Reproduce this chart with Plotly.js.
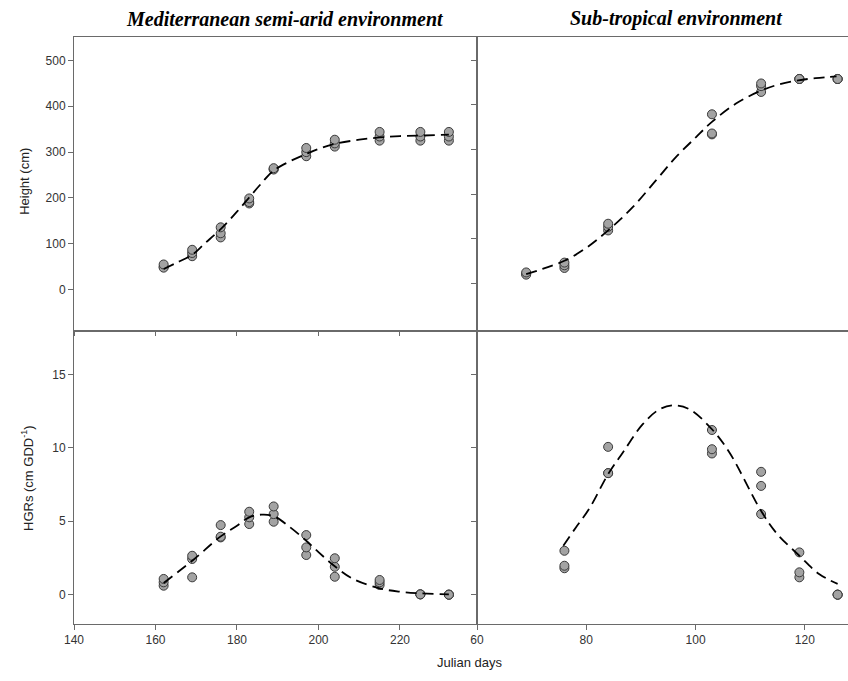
<!DOCTYPE html>
<html>
<head>
<meta charset="utf-8">
<script src="https://cdn.plot.ly/plotly-3.0.1.min.js"></script>
<style>html,body{margin:0;padding:0;background:#fff;}#chart{width:848px;height:681px;}</style>
</head>
<body>
<div id="chart"></div>
<script>
// ---------- Mediterranean semi-arid environment ----------
var medDays = [162, 169, 176, 183, 189, 197, 204, 215, 225, 232];
var medHeightRep1 = [55, 87, 136, 199, 265, 309, 327, 344, 344, 344];
var medHeightRep2 = [48, 80, 123, 191, 262, 300, 319, 334, 334, 334];
var medHeightRep3 = [50, 73, 114, 188, 263, 291, 312, 325, 325, 325];
var medHeightFitDays = [162, 165, 169, 172, 176, 180, 183, 186, 189, 193, 197, 200, 204, 210, 215, 220, 225, 232];
var medHeightFit = [45, 58, 76, 100, 132, 170, 201, 232, 260, 280, 296, 307, 318, 327, 332, 335, 336, 338];

var medHGRRep1 = [1.07, 2.65, 4.74, 5.65, 6.01, 4.06, 2.48, 1.00, 0.02, 0.0];
var medHGRRep2 = [0.84, 2.43, 3.95, 5.27, 5.49, 3.22, 1.90, 0.84, 0.02, 0.0];
var medHGRRep3 = [0.61, 1.18, 3.90, 4.81, 4.97, 2.70, 1.22, 0.66, 0.02, 0.0];
var medHGRFitDays = [162, 169, 176, 180, 183, 186, 189, 193, 197, 200, 204, 208.5, 215, 220, 225, 232];
var medHGRFit = [0.8, 2.31, 3.97, 4.7, 5.27, 5.45, 5.35, 4.6, 3.67, 2.9, 1.93, 1.07, 0.43, 0.2, 0.09, 0.02];

// ---------- Sub-tropical environment ----------
var subDays = [69, 76, 84, 103, 112, 119, 126];
var subHeightRep1 = [25, 47, 134, 379, 448, 458, 458];
var subHeightRep2 = [20, 41, 127, 336, 442, 458, 458];
var subHeightRep3 = [22, 35, 119, 334, 429, 458, 458];
var subHeightFitDays = [69, 72, 76, 80, 84, 88.5, 92.75, 96.4, 100.1, 103, 107.4, 111.8, 115, 118.8, 122, 125.8];
var subHeightFit = [21, 33, 51, 80, 119, 171, 231, 283, 328, 362, 403, 431, 445, 455, 460, 464];

var subHGRDays = [76, 84, 103, 112, 119, 126];
var subHGRRep1 = [2.99, 10.07, 11.22, 8.37, 2.88, 0.0];
var subHGRRep2 = [1.97, 8.28, 9.91, 7.41, 1.52, 0.0];
var subHGRRep3 = [1.80, 8.28, 9.62, 5.49, 1.18, 0.0];
var subHGRFitDays = [75.8, 78.1, 80.5, 84, 86.7, 90.3, 93.4, 96.1, 98.9, 103, 106.2, 111.8, 114.7, 119, 122.6, 126];
var subHGRFit = [3.33, 4.58, 5.83, 8.21, 9.69, 11.6, 12.63, 12.9, 12.63, 11.27, 9.69, 5.83, 4.24, 2.65, 1.41, 0.73];

// tick labels
var medTicks = [140, 160, 180, 200, 220];
var subTicks = [60, 80, 100, 120];
var heightTicks = [0, 100, 200, 300, 400, 500];
var hgrTicks = [0, 5, 10, 15];

var markerStyle = {size: 9, color: '#a3a3a3', line: {color: '#3a3a3a', width: 1}};
var lineStyle = {color: '#000', width: 1.8, dash: '11px,6px', shape: 'spline', smoothing: 1};

function pts(x, y, xa, ya) {
  return {x: x, y: y, xaxis: xa, yaxis: ya, type: 'scatter', mode: 'markers', marker: markerStyle, hoverinfo: 'x+y', showlegend: false, cliponaxis: false};
}
function fit(x, y, xa, ya) {
  return {x: x, y: y, xaxis: xa, yaxis: ya, type: 'scatter', mode: 'lines', line: lineStyle, hoverinfo: 'skip', showlegend: false};
}

var data = [
  pts(medDays, medHeightRep3, 'x', 'y'), pts(medDays, medHeightRep2, 'x', 'y'), pts(medDays, medHeightRep1, 'x', 'y'),
  fit(medHeightFitDays, medHeightFit, 'x', 'y'),
  pts(subDays, subHeightRep3, 'x2', 'y2'), pts(subDays, subHeightRep2, 'x2', 'y2'), pts(subDays, subHeightRep1, 'x2', 'y2'),
  fit(subHeightFitDays, subHeightFit, 'x2', 'y2'),
  pts(medDays, medHGRRep3, 'x3', 'y3'), pts(medDays, medHGRRep2, 'x3', 'y3'), pts(medDays, medHGRRep1, 'x3', 'y3'),
  fit(medHGRFitDays, medHGRFit, 'x3', 'y3'),
  pts(subHGRDays, subHGRRep3, 'x4', 'y4'), pts(subHGRDays, subHGRRep2, 'x4', 'y4'), pts(subHGRDays, subHGRRep1, 'x4', 'y4'),
  fit(subHGRFitDays, subHGRFit, 'x4', 'y4')
];

var tickFont = {family: 'Liberation Sans, Arial, sans-serif', size: 12, color: '#333'};
var LC = '#6a6a6a';
var split = 403 / 774;

function ax(o) {
  var base = {showline: true, linecolor: LC, linewidth: 1, showgrid: false, zeroline: false,
    ticks: 'outside', ticklen: 5, tickwidth: 1, tickcolor: LC, tickfont: tickFont, fixedrange: true};
  for (var k in o) base[k] = o[k];
  return base;
}

var layout = {
  width: 848, height: 681,
  margin: {l: 74, r: 0, t: 37, b: 57},
  paper_bgcolor: '#fff', plot_bgcolor: '#fff',
  showlegend: false,
  xaxis: ax({domain: [0, split], range: [140, 238.9], anchor: 'y', mirror: true, tickvals: medTicks, showticklabels: false, ticklen: 4}),
  yaxis: ax({domain: [0.5, 1], range: [-89, 551], anchor: 'x', mirror: true, tickvals: heightTicks}),
  xaxis2: ax({domain: [split, 1], range: [60, 127.9], anchor: 'y2', mirror: true, tickvals: subTicks, showticklabels: false, ticks: ''}),
  yaxis2: ax({domain: [0.5, 1], range: [-105, 552], anchor: 'x2', mirror: false, tickvals: heightTicks, showticklabels: false}),
  xaxis3: ax({domain: [0, split], range: [140, 238.9], anchor: 'y3', mirror: true, tickvals: medTicks}),
  yaxis3: ax({domain: [0, 0.5], range: [-2, 18], anchor: 'x3', mirror: true, tickvals: hgrTicks}),
  xaxis4: ax({domain: [split, 1], range: [60, 127.9], anchor: 'y4', mirror: true, tickvals: subTicks}),
  yaxis4: ax({domain: [0, 0.5], range: [-2, 18], anchor: 'x4', mirror: false, tickvals: hgrTicks, showticklabels: false}),
  annotations: [
    {text: '<b><i>Mediterranean semi-arid environment</i></b>', xref: 'paper', yref: 'paper', x: 0.2726, y: 1.031, xanchor: 'center', yanchor: 'middle', showarrow: false,
     font: {family: 'Liberation Serif, Times New Roman, serif', size: 20, color: '#000'}},
    {text: '<b><i>Sub-tropical environment</i></b>', xref: 'paper', yref: 'paper', x: 0.779, y: 1.031, xanchor: 'center', yanchor: 'middle', showarrow: false,
     font: {family: 'Liberation Serif, Times New Roman, serif', size: 20, color: '#000'}},
    {text: 'Height (cm)', xref: 'paper', yref: 'paper', x: -0.064, y: 0.754, xanchor: 'center', yanchor: 'middle', textangle: -90, showarrow: false,
     font: {family: 'Liberation Sans, Arial, sans-serif', size: 13, color: '#222'}},
    {text: 'HGRs (cm GDD<sup>-1</sup>)', xref: 'paper', yref: 'paper', x: -0.06, y: 0.248, xanchor: 'center', yanchor: 'middle', textangle: -90, showarrow: false,
     font: {family: 'Liberation Sans, Arial, sans-serif', size: 13, color: '#222'}},
    {text: 'Julian days', xref: 'paper', yref: 'paper', x: 0.5116, y: -0.065, xanchor: 'center', yanchor: 'middle', showarrow: false,
     font: {family: 'Liberation Sans, Arial, sans-serif', size: 13, color: '#222'}}
  ]
};

Plotly.newPlot('chart', data, layout, {staticPlot: true, displayModeBar: false});
</script>
</body>
</html>
